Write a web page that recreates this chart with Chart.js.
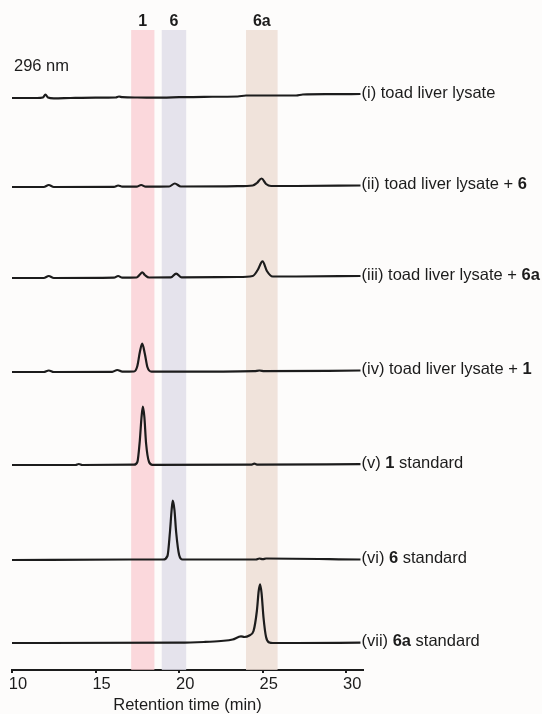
<!DOCTYPE html>
<html>
<head>
<meta charset="utf-8">
<script src="https://cdn.jsdelivr.net/npm/chart.js@4.4.1/dist/chart.umd.min.js"></script>
<style>
  html, body { margin: 0; padding: 0; background: #fdfcfb; }
  canvas { display: block; }
</style>
</head>
<body>
<canvas id="chromChart" width="542" height="714"></canvas>
<script>
// x axis
const xTicks = [10, 15, 20, 25, 30];

// highlighted retention windows
const bandNames = ['1', '6', '6a'];
const bandStart = [17.13, 18.96, 24.0];
const bandEnd = [18.52, 20.42, 25.89];

// trace labels: [prefix, bold part, suffix]
const labelPre = ['(i) toad liver lysate', '(ii) toad liver lysate + ', '(iii) toad liver lysate + ', '(iv) toad liver lysate + ', '(v) ', '(vi) ', '(vii) '];
const labelBold = ['', '6', '6a', '1', '1', '6', '6a'];
const labelPost = ['', '', '', '', ' standard', ' standard', ' standard'];

// stacking offset of each trace
const traceOffsets = [572, 483, 392, 298, 205, 110, 27];

// (i) toad liver lysate
const timeI = [10, 11.5, 11.85, 12.0, 12.15, 12.5, 13.5, 15.0, 16.2, 16.4, 16.6, 17.5, 19.0, 20.0, 21.5, 23.5, 24.0, 25.5, 27.0, 27.4, 29.0, 30.85];
const sigI  = [0, 0, 0.5, 3.5, 0.5, -0.3, 0, 0.3, 0.5, 1.5, 0.8, 0.5, 0.3, 0.8, 1.2, 1.5, 2.5, 2.5, 2.5, 3.5, 3.8, 4];
// (ii) + 6
const timeII = [10, 11.9, 12.2, 12.5, 16.1, 16.35, 16.6, 17.45, 17.73, 18.0, 19.4, 19.74, 20.1, 23.5, 24.4, 24.65, 24.93, 25.2, 25.5, 27, 30.85];
const sigII  = [0, 0, 2, 0, 0.2, 1.5, 0.3, 0.3, 2, 0.3, 0.5, 3.5, 0.5, 0.8, 1.5, 4, 8.5, 3, 1, 1, 1.5];
// (iii) + 6a
const timeIII = [10, 11.9, 12.2, 12.5, 16.1, 16.35, 16.6, 17.45, 17.65, 17.79, 17.95, 18.2, 19.5, 19.82, 20.15, 23.5, 24.4, 24.7, 24.99, 25.25, 25.6, 27, 30.85];
const sigIII  = [0, 0, 2, 0, 0.3, 2, 0.3, 0.5, 3.5, 5.7, 3, 0.5, 0.6, 4.3, 0.6, 1, 2, 8, 16.7, 7, 1.5, 1.5, 2];
// (iv) + 1
const timeIV = [10, 11.9, 12.2, 12.5, 16.0, 16.3, 16.6, 17.3, 17.5, 17.65, 17.79, 17.95, 18.1, 18.35, 20, 24.5, 24.8, 25.1, 30.85];
const sigIV  = [0, 0, 1.5, 0, 0.2, 2, 0.3, 0.5, 6, 20, 28.4, 18, 5, 0.3, 0.3, 0.8, 1.5, 0.8, 1.5];
// (v) 1 standard
const timeV = [10, 13.8, 14.0, 14.2, 17.3, 17.5, 17.65, 17.75, 17.83, 17.92, 18.02, 18.2, 18.4, 24.3, 24.5, 24.7, 30.85];
const sigV  = [0, 0, 1, 0, 0.3, 3, 25, 48, 58.3, 48, 22, 3, 0.2, 0.4, 1.3, 0.4, 0.8];
// (vi) 6 standard
const timeVI = [10, 17, 19.05, 19.3, 19.45, 19.55, 19.62, 19.72, 19.82, 20.0, 20.2, 24.6, 24.8, 25.0, 25.2, 30.85];
const sigVI  = [0, 0.5, 0.5, 4, 28, 50, 59.3, 50, 28, 5, 0.5, 0.5, 1.5, 0.8, 1.5, 0.5];
// (vii) 6a standard
const timeVII = [10, 20, 21.5, 22.5, 23.2, 23.55, 23.7, 23.9, 24.2, 24.45, 24.65, 24.76, 24.84, 24.93, 25.05, 25.2, 25.4, 25.6, 27, 30.85];
const sigVII  = [0, 0.3, 1, 2, 3.5, 6, 6.7, 6, 7.5, 12, 32, 52, 58.7, 50, 25, 6, 0.5, 0, 0, 0.3];

const traceTimes = [timeI, timeII, timeIII, timeIV, timeV, timeVI, timeVII];
const traceSignals = [sigI, sigII, sigIII, sigIV, sigV, sigVI, sigVII];

const bandColors = ['rgba(250,202,208,0.72)', 'rgba(222,220,232,0.8)', 'rgba(236,220,211,0.8)'];
const FONT = '"Liberation Sans", Arial, sans-serif';
const INK = '#1c1c1c';

const datasets = traceTimes.map((times, i) => ({
    data: times.map((t, j) => ({ x: t, y: traceOffsets[i] + traceSignals[i][j] })),
    borderColor: INK,
    borderWidth: 2.2,
    pointRadius: 0,
    cubicInterpolationMode: 'monotone',
    fill: false
}));

// shaded windows + labels
const bandPlugin = {
    id: 'bands',
    beforeDatasetsDraw(chart) {
        const { ctx, chartArea, scales } = chart;
        ctx.save();
        bandNames.forEach((name, i) => {
            const x0 = scales.x.getPixelForValue(bandStart[i]);
            const x1 = scales.x.getPixelForValue(bandEnd[i]);
            ctx.fillStyle = bandColors[i];
            ctx.fillRect(x0, chartArea.top, x1 - x0, chartArea.bottom - chartArea.top);
            ctx.fillStyle = INK;
            ctx.font = 'bold 16px ' + FONT;
            ctx.textAlign = 'center';
            ctx.textBaseline = 'middle';
            ctx.fillText(name, (x0 + x1) / 2, chartArea.top - 8);
        });
        ctx.restore();
    }
};

// right-hand trace labels and wavelength note
const labelPlugin = {
    id: 'traceLabels',
    afterDatasetsDraw(chart) {
        const { ctx, scales } = chart;
        ctx.save();
        ctx.fillStyle = INK;
        ctx.textBaseline = 'middle';
        ctx.textAlign = 'left';
        ctx.font = '16.5px ' + FONT;
        ctx.fillText('296 nm', 14, 66);
        traceTimes.forEach((times, i) => {
            const last = times.length - 1;
            let x = scales.x.getPixelForValue(times[last]) + 1;
            const y = scales.y.getPixelForValue(traceOffsets[i] + traceSignals[i][last]) - 1;
            [[labelPre[i], ''], [labelBold[i], 'bold '], [labelPost[i], '']].forEach(([txt, w]) => {
                if (!txt) return;
                ctx.font = w + '16.5px ' + FONT;
                ctx.fillText(txt, x, y);
                x += ctx.measureText(txt).width;
            });
        });
        ctx.restore();
    }
};

new Chart(document.getElementById('chromChart'), {
    type: 'line',
    data: { datasets },
    options: {
        responsive: false,
        animation: false,
        layout: { padding: { left: 12, right: 179, top: 30, bottom: 0 } },
        plugins: { legend: { display: false }, tooltip: { enabled: false } },
        scales: {
            x: {
                type: 'linear',
                min: 10,
                max: 31,
                afterBuildTicks: s => { s.ticks = xTicks.map(v => ({ value: v })); },
                afterFit: s => { s.height = 44; },
                border: { display: true, color: INK, width: 2 },
                grid: { display: true, drawOnChartArea: false, drawTicks: true, tickLength: 3, color: INK, lineWidth: 2 },
                ticks: { color: INK, font: { family: FONT, size: 16.5 }, padding: 2, labelOffset: 6, maxRotation: 0 },
                title: { display: true, text: 'Retention time (min)', color: INK, font: { family: FONT, size: 16.5, lineHeight: 1 }, padding: { top: 0, bottom: 0 } }
            },
            y: { type: 'linear', display: false, min: 0, max: 640 }
        }
    },
    plugins: [bandPlugin, labelPlugin]
});
</script>
</body>
</html>
